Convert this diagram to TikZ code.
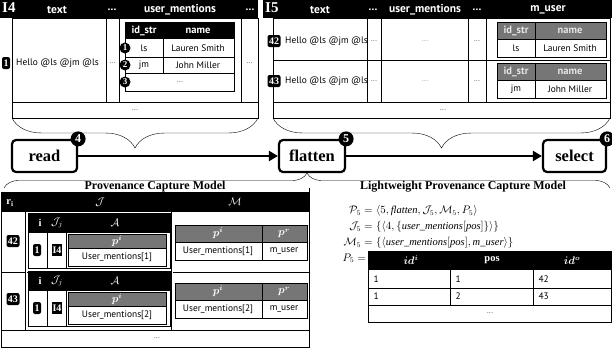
\documentclass[tikz,border=0pt]{standalone}
\usepackage{amsmath}
\usepackage{fontspec}
\setmainfont{Liberation Serif}
\setsansfont{PT Sans}
\usetikzlibrary{arrows.meta,decorations.pathreplacing}
\definecolor{hdrgray}{RGB}{118,118,118}

\begin{document}
\begin{tikzpicture}[x=1pt,y=-1pt,
    hdr/.style={text=white, font=\sffamily\bfseries\fontsize{11.5}{12}\selectfont},
    subhdr/.style={text=white, font=\sffamily\bfseries\fontsize{10.5}{11}\selectfont},
    cell/.style={font=\sffamily\fontsize{9.4}{10}\selectfont},
    dots/.style={font=\sffamily\fontsize{7.5}{8}\selectfont, text=black!75},
    badge/.style={fill=black, text=white, rounded corners=2pt, inner sep=1.5pt, minimum height=12pt, font=\bfseries\fontsize{10}{10}\selectfont},
    numdot/.style={circle, fill=black, text=white, inner sep=0pt, minimum size=11pt, font=\bfseries\fontsize{9}{9}\selectfont},
    opbox/.style={draw, line width=2.2pt, rounded corners=4pt, minimum height=32pt, font=\bfseries\fontsize{16.5}{17}\selectfont},
    flow/.style={line width=2.5pt, -{Triangle[length=9pt,width=10pt]}},
    brc/.style={decorate, decoration={brace, amplitude=#1}},
    ttl/.style={font=\bfseries\fontsize{12}{12}\selectfont},
    mth/.style={font=\fontsize{10.5}{11}\selectfont},
  ]
  \useasboundingbox (0,0) rectangle (612,351);

  % table I4
  \fill (0,0) rectangle (258,18);
  \node[text=white, anchor=west, inner sep=1pt, font=\bfseries\fontsize{15}{15}\selectfont] (lblA) at (1,8) {I4};
  \node[hdr] (hA1) at (57,9.5) {text};
  \node[hdr] (hA2) at (112,9.5) {...};
  \node[hdr] (hA3) at (180,9.5) {user\_mentions};
  \node[hdr] (hA4) at (250,9.5) {...};
  \draw (12,18) rectangle (258,118);
  \draw (12,102) -- (258,102);
  \draw (106,18) -- (106,102) (119,18) -- (119,102) (241,18) -- (241,102);
  \node[badge] (bA) at (6,63) {1};
  \node[cell, anchor=west, inner sep=0pt] (txtA) at (16,63) {Hello @ls @jm @ls};
  \node[dots] (dA1) at (112.5,63) {...};
  \node[dots] (dA2) at (249.5,63) {...};
  \node[dots] (dA3) at (135,110) {...};
  % nested user_mentions
  \fill (125,22) rectangle (234,39);
  \draw (125,22) rectangle (234,91);
  \draw (125,57) -- (234,57) (125,73) -- (234,73) (163,39) -- (163,73);
  \node[subhdr] (uA1) at (144,31) {id\_str};
  \node[subhdr] (uA2) at (198,31) {name};
  \node[cell] (uA3) at (144,48) {ls};
  \node[cell] (uA4) at (198,48) {Lauren Smith};
  \node[cell] (uA5) at (144,65) {jm};
  \node[cell] (uA6) at (198,65) {John Miller};
  \node[dots] (uA7) at (180,82) {...};
  \foreach \k/\yy in {1/48,2/65,3/82}
    \node[numdot] (pos\k) at (125,\yy) {\k};

  % table I5
  \fill (263,0) rectangle (612,18);
  \node[text=white, anchor=west, inner sep=1pt, font=\bfseries\fontsize{15}{15}\selectfont] (lblB) at (264,8) {I5};
  \node[hdr] (hB1) at (320,9.5) {text};
  \node[hdr] (hB2) at (373,9.5) {...};
  \node[hdr] (hB3) at (425,9.5) {user\_mentions};
  \node[hdr] (hB4) at (477,9.5) {...};
  \node[hdr] (hB5) at (548,9.5) {m\_user};
  \draw (273,18) rectangle (610,118);
  \draw (273,60) -- (610,60) (273,102) -- (610,102);
  \draw (367,18) -- (367,102) (381,18) -- (381,102) (468,18) -- (468,102) (486,18) -- (486,102);
  \foreach \r/\yy/\dy/\a/\b in {42/41/22/ls/Lauren Smith,43/81/63/jm/John Miller} {
    \node[badge] (bB\r) at (274,\yy) {\r};
    \node[cell, anchor=west, inner sep=0pt] (txtB\r) at (285,\yy) {Hello @ls @jm @ls};
    \node[dots] (dB\r a) at (374,\yy) {...};
    \node[dots, text=black!45] (dB\r b) at (425,\yy) {...};
    \node[dots] (dB\r c) at (477,\yy) {...};
    \fill[hdrgray] (497,\dy) rectangle (606,\dy+17);
    \draw (497,\dy) rectangle (606,\dy+35);
    \draw (497,\dy+17) -- (606,\dy+17) (535,\dy) -- (535,\dy+35);
    \node[subhdr, text=black!10] (mB\r a) at (516,\dy+8.5) {id\_str};
    \node[subhdr, text=black!10] (mB\r b) at (570,\dy+8.5) {name};
    \node[cell] (mB\r c) at (516,\dy+26) {\a};
    \node[cell] (mB\r d) at (570,\dy+26) {\b};
  }
  \node[dots] (dB) at (443,110) {...};

  % braces and operators
  \draw[brc=30] (258,118) -- (12,118);
  \draw[brc=30] (610,118) -- (273,118);
  \node[opbox, minimum width=65pt] (read) at (44.5,156) {read};
  \node[opbox, minimum width=66pt] (flatten) at (312,156) {flatten};
  \node[opbox, minimum width=63pt] (select) at (574.5,156) {select};
  \node[numdot, minimum size=15pt, font=\bfseries\fontsize{12}{12}\selectfont] (op4) at (read.north east) {4};
  \node[numdot, minimum size=15pt, font=\bfseries\fontsize{12}{12}\selectfont] (op5) at (flatten.north east) {5};
  \node[numdot, minimum size=15pt, font=\bfseries\fontsize{12}{12}\selectfont] (op6) at (select.north east) {6};
  \draw[flow] (read) -- (flatten);
  \draw[flow] (flatten) -- (select);
  \draw[brc=15] (4,188) -- (610,188);

  % provenance capture model
  \node[ttl] (ttlA) at (155,187) {Provenance Capture Model};
  \fill (1,192) rectangle (309,212);
  \draw (1,192) rectangle (309,347);
  \draw (1,272) -- (309,272) (1,330) -- (309,330);
  \draw[double] (26,212) -- (26,330) (172,212) -- (172,330);
  \node[text=white, mth] (hC1) at (10,203) {$\mathbf{r}_{\mathbf{i}}$};
  \node[text=white, mth] (hC2) at (100,202) {$\mathcal{J}$};
  \node[text=white, mth] (hC3) at (235,202) {$\mathcal{M}$};
  \foreach \r/\k/\dy in {42/1/0,43/2/58} {
    \node[badge] (bC\r) at (13,241+\dy) {\r};
    \fill (28,213+\dy) rectangle (170,233+\dy);
    \draw (28,213+\dy) rectangle (170,268+\dy);
    \draw (47,233+\dy) -- (47,268+\dy) (66,233+\dy) -- (66,268+\dy);
    \node[text=white, font=\bfseries\fontsize{10.5}{11}\selectfont] (iC\r) at (40,223+\dy) {i};
    \node[text=white, mth] (jC\r) at (57,223+\dy) {$\mathcal{J}_j$};
    \node[text=white, mth] (aC\r) at (115,223+\dy) {$\mathcal{A}$};
    \node[badge] (kC\r) at (37,250+\dy) {1};
    \node[badge, rounded corners=0pt, inner sep=1pt] (sC\r) at (57,250+\dy) {I4};
    \fill[hdrgray] (68,234+\dy) rectangle (166,248+\dy);
    \draw (68,234+\dy) rectangle (166,266+\dy);
    \draw (68,248+\dy) -- (166,248+\dy);
    \node[text=white, mth] (piC\r) at (117,241+\dy) {$\boldsymbol{p^i}$};
    \node[cell] (uC\r) at (117,257+\dy) {User\_mentions[\k]};
    \fill[hdrgray] (175,225+\dy) rectangle (307,242+\dy);
    \draw (175,225+\dy) rectangle (307,260+\dy);
    \draw (175,242+\dy) -- (307,242+\dy) (262,225+\dy) -- (262,260+\dy);
    \node[text=white, mth] (piM\r) at (218,233.5+\dy) {$\boldsymbol{p^i}$};
    \node[text=white, mth] (prM\r) at (284,233.5+\dy) {$\boldsymbol{p^r}$};
    \node[cell] (uM\r) at (218,251+\dy) {User\_mentions[\k]};
    \node[cell] (mM\r) at (284,251+\dy) {m\_user};
  }
  \node[dots] (dC) at (157,338) {...};
  \draw[double] (310,188) -- (310,347);

  % lightweight provenance capture model
  \node[ttl] (ttlB) at (463,187) {Lightweight Provenance Capture Model};
  \node[anchor=base east, inner sep=0pt, mth] (eqPl) at (376,213.5) {$\mathcal{P}_5 ={}$};
  \node[anchor=base west, inner sep=0pt, mth] (eqPr) at (376,213.5)
    {$\langle 5, \mathit{flatten}, \mathcal{J}_5, \mathcal{M}_5, P_5\rangle$};
  \node[anchor=base east, inner sep=0pt, mth] (eqJl) at (376,229.5) {$\mathcal{J}_5 ={}$};
  \node[anchor=base west, inner sep=0pt, mth] (eqJr) at (376,229.5)
    {$\{\langle 4, \{\mathit{user\_mentions}[\mathit{pos}]\}\rangle\}$};
  \node[anchor=base east, inner sep=0pt, mth] (eqMl) at (376,245.5) {$\mathcal{M}_5 ={}$};
  \node[anchor=base west, inner sep=0pt, mth] (eqMr) at (376,245.5)
    {$\{\langle \mathit{user\_mentions}[\mathit{pos}], \mathit{m\_user}\rangle\}$};
  \node[anchor=base east, inner sep=0pt, mth] (eqTl) at (366,261) {$P_5 =$};
  \fill (368,251) rectangle (612,270);
  \draw (368,251) rectangle (611.5,322);
  \draw (368,288) -- (612,288) (368,305) -- (612,305);
  \draw (450,270) -- (450,305) (533,270) -- (533,305);
  \node[text=white, mth] (tP1) at (411,260.5) {$\boldsymbol{id^i}$};
  \node[text=white, font=\bfseries\fontsize{10.5}{11}\selectfont] (tP2) at (492,260.5) {pos};
  \node[text=white, mth] (tP3) at (572,260.5) {$\boldsymbol{id^o}$};
  \foreach \k/\o/\yy in {1/42/279,2/43/296.5} {
    \node[cell, anchor=west] (vP\k a) at (370,\yy) {1};
    \node[cell, anchor=west] (vP\k b) at (452,\yy) {\k};
    \node[cell, anchor=west] (vP\k c) at (535,\yy) {\o};
  }
  \node[dots] (dP) at (490,313) {...};
\end{tikzpicture}
\end{document}
